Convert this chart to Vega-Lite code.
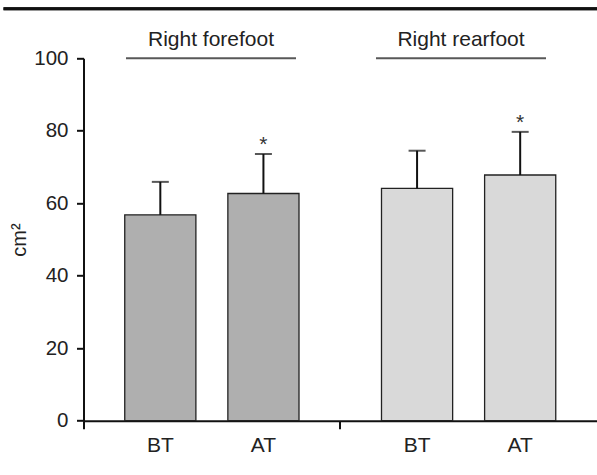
{
  "$schema": "https://vega.github.io/schema/vega-lite/v6.json",
  "width": 513.5,
  "height": 362.4,
  "autosize": {"type": "none"},
  "padding": {"left": 83.5, "top": 58.3, "right": 0, "bottom": 54.3},
  "background": "white",
  "config": {
    "font": "Liberation Sans",
    "view": {"stroke": null},
    "axis": {"labelFont": "Liberation Sans", "titleFont": "Liberation Sans"}
  },
  "datasets": {
    "bars": [
      {"group": "Right forefoot", "time": "BT", "mean": 56.8, "upper": 65.9, "sig": ""},
      {"group": "Right forefoot", "time": "AT", "mean": 62.7, "upper": 73.6, "sig": "*"},
      {"group": "Right rearfoot", "time": "BT", "mean": 64.1, "upper": 74.5, "sig": ""},
      {"group": "Right rearfoot", "time": "AT", "mean": 67.8, "upper": 79.7, "sig": "*"}
    ],
    "groups": [
      {"group": "Right forefoot"},
      {"group": "Right rearfoot"}
    ]
  },
  "layer": [
    {
      "layer": [
        {
          "data": {"name": "bars"},
          "mark": {"type": "bar", "stroke": "#222222", "strokeWidth": 1.3},
          "encoding": {
            "x": {
              "field": "group", "type": "nominal",
              "scale": {"domain": ["Right forefoot", "Right rearfoot"], "paddingInner": 0, "paddingOuter": 0},
              "axis": {"title": null, "labels": false, "bandPosition": 0, "tickSize": 8, "tickWidth": 2, "domainWidth": 2, "domainColor": "#111111", "tickColor": "#111111"}
            },
            "xOffset": {
              "field": "time", "type": "nominal",
              "scale": {"domain": ["BT", "AT"], "paddingInner": 0.31, "paddingOuter": 0.4}
            },
            "y": {
              "field": "mean", "type": "quantitative",
              "scale": {"domain": [0, 100], "nice": false},
              "axis": {
                "title": "cm²", "values": [0, 20, 40, 60, 80, 100], "grid": false,
                "tickSize": 7, "tickWidth": 2, "domainWidth": 2, "domainColor": "#111111", "tickColor": "#111111",
                "labelFontSize": 20.5, "labelColor": "#222222", "labelPadding": 8.5,
                "titleFontSize": 20, "titleFontWeight": "normal", "titleColor": "#222222", "titlePadding": 4
              }
            },
            "color": {
              "field": "group", "type": "nominal",
              "scale": {"domain": ["Right forefoot", "Right rearfoot"], "range": ["#afafaf", "#d9d9d9"]},
              "legend": null
            }
          }
        },
        {
          "data": {"name": "bars"},
          "mark": {"type": "rule", "strokeWidth": 2, "color": "#111111"},
          "encoding": {
            "x": {"field": "group", "type": "nominal"},
            "xOffset": {"field": "time", "type": "nominal"},
            "y": {"field": "mean", "type": "quantitative"},
            "y2": {"field": "upper"}
          }
        },
        {
          "data": {"name": "bars"},
          "mark": {"type": "tick", "orient": "horizontal", "size": 17, "thickness": 2, "color": "#111111"},
          "encoding": {
            "x": {"field": "group", "type": "nominal"},
            "xOffset": {"field": "time", "type": "nominal"},
            "y": {"field": "upper", "type": "quantitative"}
          }
        },
        {
          "data": {"name": "bars"},
          "mark": {"type": "text", "fontSize": 21, "color": "#333333", "baseline": "alphabetic", "dy": -2.5},
          "encoding": {
            "x": {"field": "group", "type": "nominal"},
            "xOffset": {"field": "time", "type": "nominal"},
            "y": {"field": "upper", "type": "quantitative"},
            "text": {"field": "sig"}
          }
        },
        {
          "data": {"name": "bars"},
          "mark": {"type": "text", "fontSize": 21, "color": "#222222", "baseline": "alphabetic", "dy": 31},
          "encoding": {
            "x": {"field": "group", "type": "nominal"},
            "xOffset": {"field": "time", "type": "nominal"},
            "y": {"datum": 0, "type": "quantitative"},
            "text": {"field": "time"}
          }
        },
        {
          "data": {"name": "groups"},
          "mark": {"type": "rule", "strokeWidth": 3, "color": "#111111"},
          "encoding": {
            "y": {"datum": 113.7, "type": "quantitative"},
            "x": {"value": -80},
            "x2": {"value": {"expr": "width"}}
          }
        }
      ]
    },
    {
      "layer": [
        {
          "data": {"name": "groups"},
          "mark": {"type": "tick", "orient": "horizontal", "size": 170, "thickness": 2, "color": "#111111"},
          "encoding": {
            "x": {
              "field": "group", "type": "nominal",
              "scale": {"domain": ["Right forefoot", "Right rearfoot"], "paddingInner": 0, "paddingOuter": 0.027, "align": 0.185},
              "axis": null
            },
            "y": {"datum": 100, "type": "quantitative"}
          }
        },
        {
          "data": {"name": "groups"},
          "mark": {"type": "text", "fontSize": 21, "color": "#222222", "baseline": "alphabetic", "dy": -12.3},
          "encoding": {
            "x": {"field": "group", "type": "nominal"},
            "y": {"datum": 100, "type": "quantitative"},
            "text": {"field": "group"}
          }
        }
      ]
    }
  ],
  "resolve": {"scale": {"x": "independent"}, "axis": {"x": "independent"}}
}
